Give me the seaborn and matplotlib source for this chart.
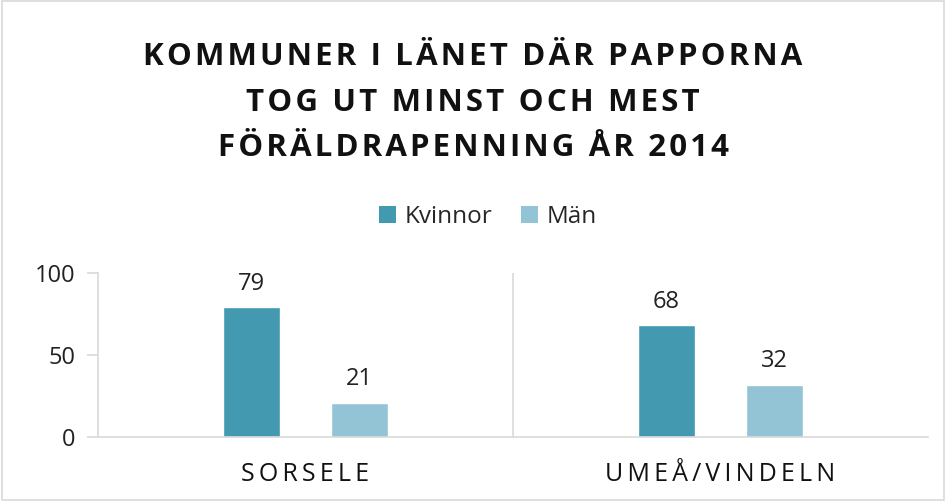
import matplotlib
matplotlib.use("Agg")
import matplotlib.pyplot as plt
import seaborn as sns
import pandas as pd
from matplotlib.patches import Patch

categories = ["SORSELE", "UMEÅ/VINDELN"]
series = ["Kvinnor", "Män"]
kvinnor = [79, 68]
man = [21, 32]
yticks = [0, 50, 100]
title_lines = ["KOMMUNER I LÄNET DÄR PAPPORNA", "TOG UT MINST OCH MEST", "FÖRÄLDRAPENNING ÅR 2014"]

colors = {"Kvinnor": "#4399b0", "Män": "#93c4d6"}

TS = "\u2009"  # thin space (present in Open Sans)
HS = "\u200a"  # hair space (present in Open Sans)


def track(s):
    # light letter spacing inside words, slightly wider word gaps
    return (TS + " ").join(HS.join(w) for w in s.split(" "))


df = pd.DataFrame({
    "kommun": categories * 2,
    "kon": [series[0]] * len(categories) + [series[1]] * len(categories),
    "varde": kvinnor + man,
})

sns.set_theme(style="white")
plt.rcParams['font.family'] = ['Open Sans', 'DejaVu Sans']

fig = plt.figure(figsize=(9.46, 5.01), dpi=100)
ax = fig.add_axes([98/946, (501-437)/501, (928-98)/946, (437-273)/501])

sns.barplot(data=df, x="kommun", y="varde", hue="kon", order=categories,
            hue_order=series, palette=colors, width=0.51, gap=0.0,
            dodge=True, ax=ax, legend=False, saturation=1)

bw = 57/415
off_abs = 54/415
for p in ax.patches:
    cx = p.get_x() + p.get_width() / 2
    base = round(cx)
    off = off_abs if cx > base else -off_abs
    p.set_width(bw)
    p.set_x(base + off - bw/2)
    ax.text(base + off, p.get_height() + 7, f"{int(round(p.get_height()))}",
            ha="center", va="bottom", fontsize=17, color="#222222")

ax.set_xlim(-0.5, 1.5)
ax.set_ylim(0, 100)
ax.set_yticks(yticks)
ax.set_yticklabels([str(t) for t in yticks], fontsize=17, color="#222222")
ax.set_xticks(range(len(categories)))
ax.set_xticklabels([TS.join(c) for c in categories], fontsize=18, color="#111111")
ax.set_xlabel("")
ax.set_ylabel("")

for s in ["top", "right"]:
    ax.spines[s].set_visible(False)
for s in ["left", "bottom"]:
    ax.spines[s].set_color("#d9d9d9")
    ax.spines[s].set_linewidth(1.2)
ax.axvline(0.5, color="#d9d9d9", lw=1.2)
ax.tick_params(axis="y", which="major", left=True, length=8, color="#d9d9d9", width=1.2, pad=8)
ax.tick_params(axis="x", which="major", bottom=False, pad=12)

fig.text(0.5, 0.916, "\n".join(track(l) for l in title_lines), ha="center", va="top",
         fontsize=22.5, fontweight="bold", color="#111111", linespacing=1.68)

handles = [Patch(facecolor=colors[s], edgecolor="none") for s in series]
fig.legend(handles, series, loc="center", bbox_to_anchor=(488/946, (501-217)/501), ncol=2,
           frameon=False, fontsize=17.5, handlelength=0.68, handleheight=0.68,
           handletextpad=0.35, columnspacing=1.2)

border = plt.Rectangle((0.002, 0.002), 0.996, 0.996, transform=fig.transFigure,
                       fill=False, edgecolor="#d9d9d9", lw=1.2)
fig.add_artist(border)

fig.savefig("out.png", dpi=100)
